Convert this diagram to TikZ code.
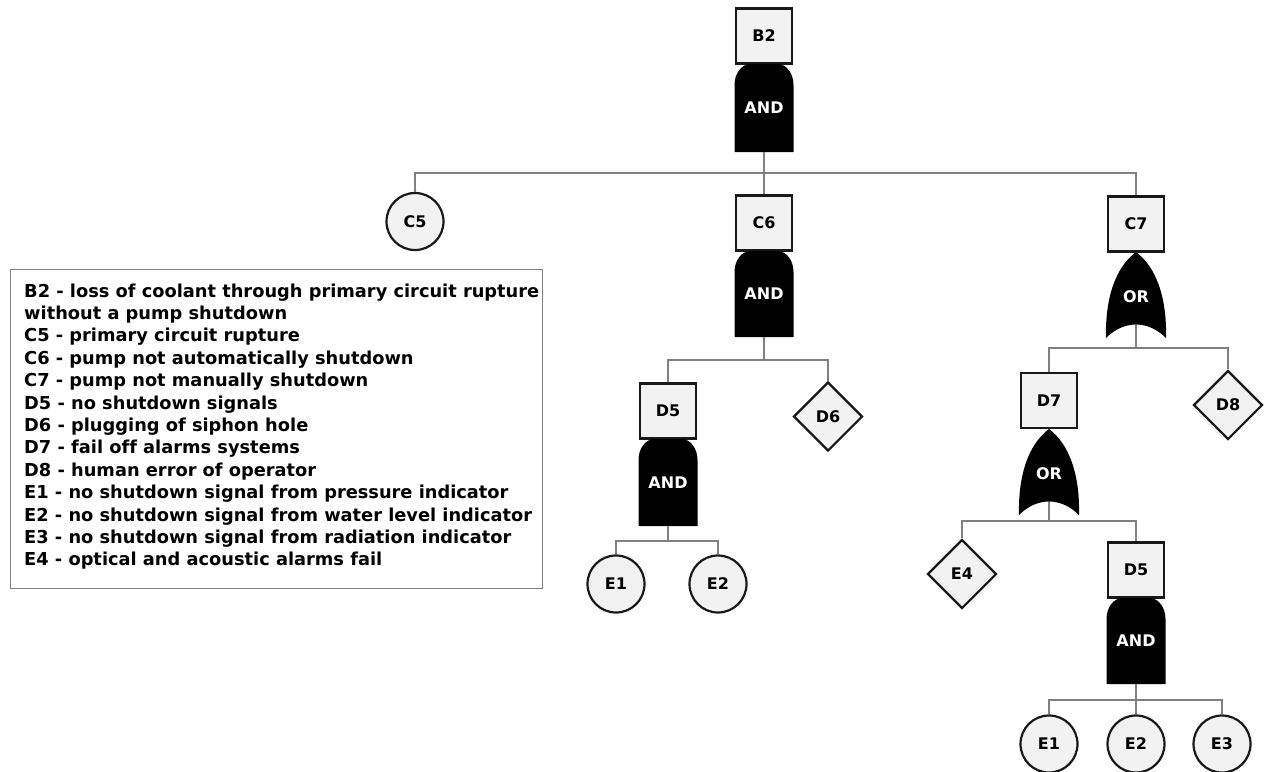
\documentclass[tikz,border=0pt]{standalone}
\usepackage{fontspec}
\setmainfont[Ligatures={NoCommon}]{DejaVu Sans}
\usetikzlibrary{shapes.geometric}
\definecolor{boxfill}{HTML}{F2F2F2}
\definecolor{conncol}{HTML}{808080}
\definecolor{legcol}{HTML}{808080}
\newcommand\fntnode{\fontsize{16}{19}\selectfont\bfseries}
\newcommand\fntleg{\fontsize{17.8}{22}\selectfont\bfseries}
% AND gate: name, cx, top, bottom
\newcommand\andgate[4]{%
  \fill (#2-29.5,#4) -- (#2-29.5,#3+21) .. controls (#2-29.5,#3+9) and (#2-22,#3) .. (#2-13.5,#3)
    -- (#2+13.5,#3) .. controls (#2+22,#3) and (#2+29.5,#3+9) .. (#2+29.5,#3+21) -- (#2+29.5,#4) -- cycle;
  \node[gatetext] (#1) at (#2,{(#3+#4)/2}) {AND};
  \coordinate (#1b) at (#2,#4);}
% OR gate: name, cx, top, bottom tips
\newcommand\orgate[4]{%
  \fill (#2,#3) .. controls (#2-20,#3+15) and (#2-31,#3+45) .. (#2-30,#4)
    .. controls (#2-12,#4-18) and (#2+12,#4-18) .. (#2+30,#4)
    .. controls (#2+31,#3+45) and (#2+20,#3+15) .. (#2,#3) -- cycle;
  \node[gatetext] (#1) at (#2,#3+45) {OR};
  \coordinate (#1b) at (#2,#4-13);}
\begin{document}
\begin{tikzpicture}[x=1pt,y=-1pt,
  evbox/.style={draw=black!90, line width=2.2pt, fill=boxfill, minimum width=56pt, minimum height=55pt, inner sep=0pt, font=\fntnode},
  basic/.style={circle, draw=black!90, line width=2.2pt, fill=boxfill, minimum size=57pt, inner sep=0pt, font=\fntnode},
  undev/.style={diamond, draw=black!90, line width=2.2pt, fill=boxfill, minimum width=69pt, minimum height=69pt, inner sep=0pt, font=\fntnode},
  conn/.style={draw=conncol, line width=1.5pt},
  gatetext/.style={text=white, font=\fntnode, inner sep=0pt},
  legtext/.style={font=\fntleg, inner sep=0pt, anchor=base west},
]
\fill[white] (0,0) rectangle (1266,771);
\useasboundingbox (0,0) rectangle (1266,771);

% bus coordinates
\coordinate (busB2) at (764,173);
\coordinate (busC6) at (764,360);
\coordinate (busD5a) at (668,541);
\coordinate (busC7) at (1136,348);
\coordinate (busD7) at (1049,521);
\coordinate (busD5b) at (1136,700);

\node[evbox] (B2) at (764,36) {B2};
\andgate{gB2}{764}{64}{152}
\node[basic] (C5) at (415,221.5) {C5};
\node[evbox] (C6) at (764,223) {C6};
\node[evbox] (C7) at (1136,224) {C7};
\andgate{gC6}{764}{251}{337}
\orgate{gC7}{1136}{252}{338}
\node[evbox] (D5a) at (668,411) {D5};
\node[undev] (D6) at (828,416.5) {D6};
\andgate{gD5a}{668}{439}{526}
\node[basic] (E1a) at (616,584) {E1};
\node[basic] (E2a) at (718,584) {E2};
\node[evbox] (D7) at (1049,400.5) {D7};
\node[undev] (D8) at (1228,405) {D8};
\orgate{gD7}{1049}{429}{515}
\node[undev] (E4) at (962,574) {E4};
\node[evbox] (D5b) at (1136,570) {D5};
\andgate{gD5b}{1136}{598}{684}
\node[basic] (E1b) at (1049,744) {E1};
\node[basic] (E2b) at (1136,744) {E2};
\node[basic] (E3b) at (1222,744) {E3};

\draw[conn] (gB2b) -- (busB2) -| (C5.north);
\draw[conn] (busB2) -| (C7.north);
\draw[conn] (busB2) -- (C6.north);
\draw[conn] (gC6b) -- (busC6) -| (D5a.north);
\draw[conn] (busC6) -| (D6.north);
\draw[conn] (gD5ab) -- (busD5a -| gD5ab) -| (E1a.north);
\draw[conn] (busD5a -| gD5ab) -| (E2a.north);
\draw[conn] (gC7b) -- (busC7) -| (D7.north);
\draw[conn] (busC7) -| (D8.north);
\draw[conn] (gD7b) -- (busD7) -| (E4.north);
\draw[conn] (busD7) -| (D5b.north);
\draw[conn] (gD5bb) -- (busD5b) -| (E1b.north);
\draw[conn] (busD5b) -- (E2b.north);
\draw[conn] (busD5b) -| (E3b.north);

% legend
\node[draw=legcol, line width=1.3pt, minimum width=532pt, minimum height=319pt, anchor=north west, inner sep=0pt] (legend) at (10,269) {};
\foreach \t [count=\i from 0] in {
  B2 - loss of coolant through primary circuit rupture,
  without a pump shutdown,
  C5 - primary circuit rupture,
  C6 - pump not automatically shutdown,
  C7 - pump not manually shutdown,
  D5 - no shutdown signals,
  D6 - plugging of siphon hole,
  D7 - fail off alarms systems,
  D8 - human error of operator,
  E1 - no shutdown signal from pressure indicator,
  E2 - no shutdown signal from water level indicator,
  E3 - no shutdown signal from radiation indicator,
  E4 - optical and acoustic alarms fail}
  \node[legtext] (leg\i) at (24,{297+22.4*\i}) {\t};
\end{tikzpicture}
\end{document}
